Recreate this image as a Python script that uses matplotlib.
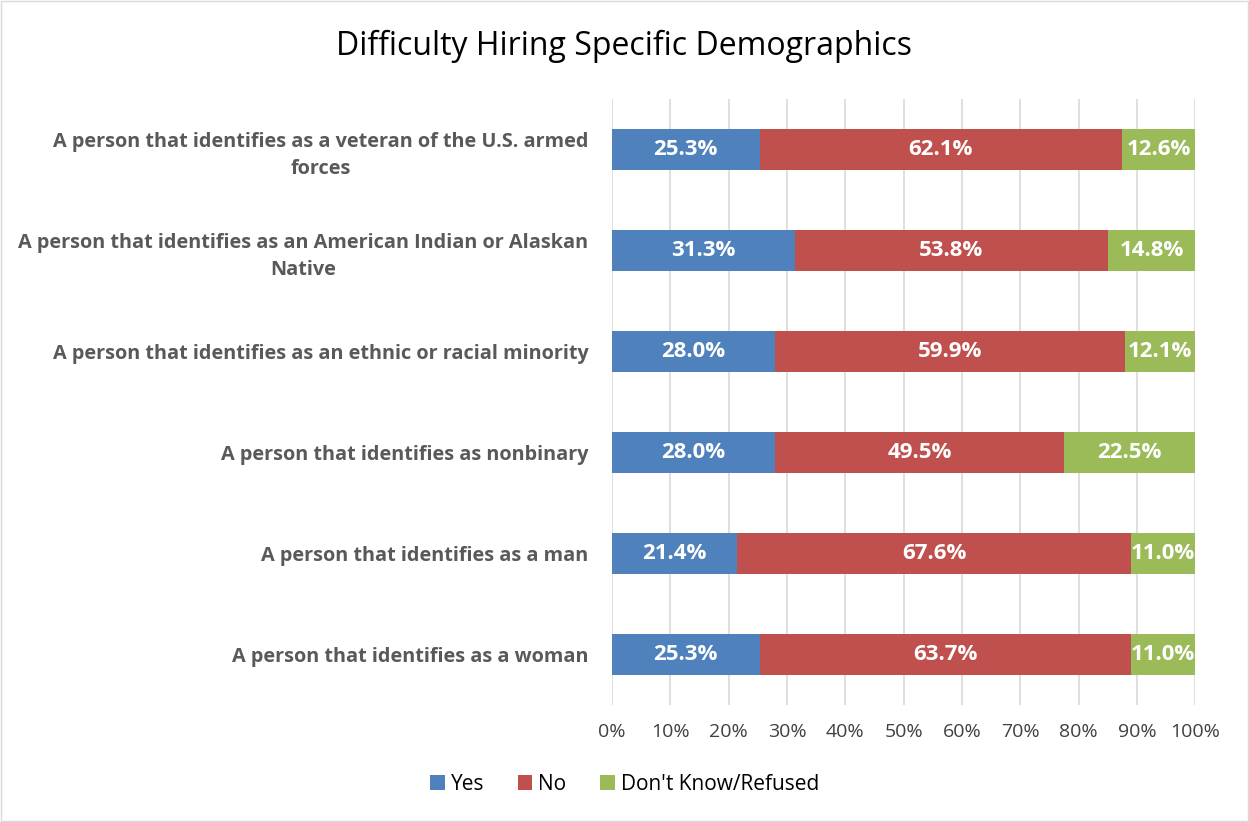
import matplotlib.pyplot as plt
from matplotlib.patches import Rectangle

categories = [
    "A person that identifies as a veteran of the U.S. armed\nforces",
    "A person that identifies as an American Indian or Alaskan\nNative",
    "A person that identifies as an ethnic or racial minority",
    "A person that identifies as nonbinary",
    "A person that identifies as a man",
    "A person that identifies as a woman",
]
yes = [25.3, 31.3, 28.0, 28.0, 21.4, 25.3]
no = [62.1, 53.8, 59.9, 49.5, 67.6, 63.7]
dk = [12.6, 14.8, 12.1, 22.5, 11.0, 11.0]
series_names = ["Yes", "No", "Don't Know/Refused"]
colors = ["#4f81bd", "#c0504d", "#9bbb59"]

plt.rcParams['font.family'] = ['Open Sans', 'DejaVu Sans']

fig = plt.figure(figsize=(12.49, 8.22), dpi=100)
ax = fig.add_axes([0.49, 0.1423, 0.467, 0.7373])

ypos = list(range(len(categories)))
left = [0.0] * len(categories)
for vals, name, col in zip([yes, no, dk], series_names, colors):
    bars = ax.barh(ypos, vals, left=left, height=0.4, color=col, label=name, zorder=3)
    for b, v in zip(bars, vals):
        ax.text(b.get_x() + b.get_width() / 2, b.get_y() + b.get_height() / 2,
                f"{v:.1f}%", ha='center', va='center', color='white',
                fontsize=16, fontweight='bold', zorder=4)
    left = [l + v for l, v in zip(left, vals)]

ax.set_xlim(0, 100)
ax.set_ylim(len(categories) - 0.5, -0.5)
ax.set_yticks(ypos)
ax.set_yticklabels(categories, fontsize=14.3, fontweight='bold', color='#595959')
for t in ax.get_yticklabels():
    t.set_multialignment('center')
    t.set_linespacing(1.45)
ax.set_xticks(range(0, 101, 10))
ax.set_xticklabels([f"{x}%" for x in range(0, 101, 10)], fontsize=14, color='#404040')
ax.tick_params(axis='both', length=0)
ax.tick_params(axis='x', pad=13)
ax.tick_params(axis='y', pad=17)
ax.grid(axis='x', color='#d9d9d9', linewidth=1.2, zorder=0)
for s in ax.spines.values():
    s.set_visible(False)

fig.text(0.5, 0.943, "Difficulty Hiring Specific Demographics", ha='center', va='center',
         fontsize=23, color='#000000')
fig.legend(loc='center', bbox_to_anchor=(0.5, 0.046), ncol=3, frameon=False,
           fontsize=15, handlelength=0.7, handleheight=0.7, handletextpad=0.3, columnspacing=1.6)

fig.patches.append(Rectangle((0.001, 0.001), 0.998, 0.998, transform=fig.transFigure,
                             fill=False, edgecolor='#d9d9d9', linewidth=1))

fig.savefig("out.png", dpi=100)
